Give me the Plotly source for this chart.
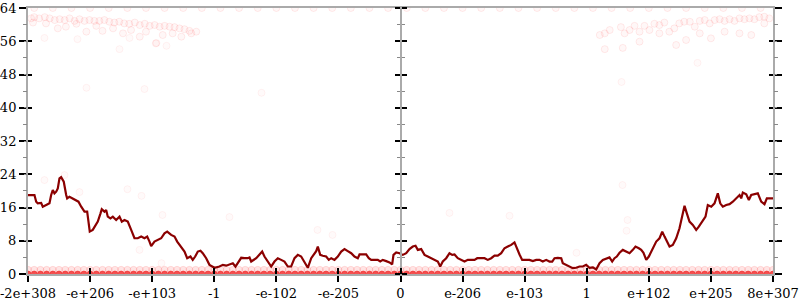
import plotly.graph_objects as go

# ---- axis ticks ----
x_tick_vals = [-6, -5, -4, -3, -2, -1, 0, 1, 2, 3, 4, 5, 6]
x_tick_text = ["-2e+308", "-e+206", "-e+103", "-1", "-e-102", "-e-205", "0",
               "e-206", "e-103", "1", "e+102", "e+205", "8e+307"]
y_tick_vals = [0, 8, 16, 24, 32, 40, 48, 56, 64]

# ---- main line (dark red) ----
line_x = [-6.0, -5.896, -5.868, -5.843, -5.788, -5.762, -5.707, -5.654, -5.627, -5.601,
          -5.574, -5.546, -5.520, -5.493, -5.466, -5.424, -5.385, -5.369, -5.332, -5.279,
          -5.224, -5.187, -5.143, -5.090, -5.047, -5.026, -5.005, -4.957, -4.929, -4.902,
          -4.876, -4.832, -4.812, -4.768, -4.741, -4.715, -4.672, -4.634, -4.580, -4.526,
          -4.489, -4.446, -4.393, -4.338, -4.285, -4.232, -4.177, -4.124, -4.080, -4.043,
          -4.016, -3.963, -3.910, -3.855, -3.802, -3.758, -3.694, -3.640, -3.597, -3.533,
          -3.479, -3.436, -3.383, -3.346, -3.307, -3.265, -3.222, -3.185, -3.130, -3.077,
          -3.024, -2.996, -2.916, -2.862, -2.808, -2.755, -2.701, -2.658, -2.621, -2.566,
          -2.513, -2.460, -2.432, -2.405, -2.324, -2.271, -2.228, -2.191, -2.138, -2.083,
          -2.030, -1.976, -1.922, -1.869, -1.815, -1.761, -1.707, -1.654, -1.600, -1.546,
          -1.493, -1.438, -1.385, -1.358, -1.332, -1.293, -1.252, -1.197, -1.155, -1.116,
          -1.063, -1.010, -0.955, -0.902, -0.849, -0.794, -0.741, -0.688, -0.660, -0.607,
          -0.553, -0.511, -0.472, -0.419, -0.366, -0.327, -0.285, -0.230, -0.177, -0.134,
          -0.113, -0.069, -0.016, 0.037, 0.092, 0.145, 0.198, 0.242, 0.279, 0.333,
          0.387, 0.440, 0.495, 0.548, 0.601, 0.640, 0.681, 0.736, 0.789, 0.833,
          0.870, 0.923, 0.978, 1.031, 1.084, 1.139, 1.192, 1.236, 1.300, 1.353,
          1.406, 1.461, 1.514, 1.567, 1.622, 1.675, 1.728, 1.783, 1.836, 1.873,
          1.917, 1.960, 1.997, 2.078, 2.131, 2.186, 2.239, 2.292, 2.347, 2.400,
          2.444, 2.481, 2.534, 2.589, 2.614, 2.669, 2.722, 2.775, 2.830, 2.883,
          2.937, 2.991, 3.044, 3.098, 3.152, 3.206, 3.259, 3.313, 3.366, 3.410,
          3.447, 3.484, 3.528, 3.581, 3.636, 3.689, 3.742, 3.785, 3.839, 3.877,
          3.914, 3.958, 4.000, 4.064, 4.119, 4.172, 4.216, 4.253, 4.290, 4.333,
          4.386, 4.441, 4.494, 4.538, 4.575, 4.612, 4.655, 4.708, 4.763, 4.805,
          4.860, 4.913, 4.950, 5.005, 5.058, 5.111, 5.150, 5.192, 5.246, 5.300,
          5.353, 5.408, 5.461, 5.488, 5.514, 5.569, 5.611, 5.649, 5.702, 5.755,
          5.810, 5.863, 5.901, 5.971, 6.0]
line_y = [19.0, 19.0, 17.4, 17.0, 17.1, 16.2, 16.6, 17.0, 19.0, 20.2,
          19.4, 19.8, 20.6, 23.0, 23.3, 22.2, 19.0, 18.2, 18.6, 18.2,
          17.8, 17.4, 16.2, 15.0, 15.0, 13.0, 10.2, 10.6, 11.4, 11.8,
          12.6, 14.6, 15.6, 15.0, 15.4, 13.8, 13.4, 13.8, 13.0, 13.8,
          12.6, 13.0, 12.6, 10.6, 8.6, 8.6, 9.0, 8.6, 9.0, 7.8,
          6.7, 7.8, 8.2, 8.6, 9.8, 10.2, 9.4, 9.0, 7.8, 6.6,
          5.4, 3.8, 4.2, 3.4, 4.2, 5.4, 5.6, 5.0, 3.8, 2.2,
          1.8, 1.5, 1.8, 2.2, 2.0, 2.3, 2.6, 1.8, 2.6, 3.9,
          3.8, 3.8, 4.0, 3.0, 3.8, 4.7, 5.4, 4.2, 3.0, 1.8,
          3.0, 3.8, 3.4, 3.0, 1.8, 1.8, 3.8, 4.6, 4.2, 3.0,
          1.5, 3.8, 5.0, 5.5, 6.6, 4.6, 4.4, 4.2, 3.4, 3.8,
          3.4, 4.2, 5.4, 6.0, 5.5, 5.0, 4.2, 3.8, 4.7, 4.7,
          4.7, 3.8, 3.4, 3.4, 3.4, 3.0, 3.4, 3.1, 2.8, 2.3,
          4.6, 5.2, 5.0, 4.6, 5.0, 6.0, 6.6, 6.8, 5.8, 6.0,
          4.6, 4.2, 3.8, 3.4, 3.0, 1.8, 3.0, 3.8, 5.0, 4.6,
          4.7, 3.8, 3.4, 3.0, 3.4, 3.4, 3.4, 3.8, 3.8, 3.8,
          3.4, 3.8, 4.4, 4.4, 5.0, 6.2, 6.6, 7.0, 7.6, 6.2,
          4.7, 3.4, 3.4, 3.4, 3.1, 3.4, 3.4, 3.0, 3.4, 3.0,
          3.0, 3.8, 3.9, 3.8, 2.6, 2.2, 1.8, 1.4, 1.5, 1.8,
          1.8, 2.2, 1.5, 1.6, 1.1, 2.6, 3.4, 3.8, 4.0, 3.0,
          3.8, 4.2, 5.1, 5.8, 5.4, 5.0, 5.8, 6.6, 6.2, 5.8,
          5.1, 3.4, 4.2, 6.2, 7.8, 8.6, 10.2, 9.0, 7.8, 6.6,
          7.0, 8.6, 11.0, 13.8, 16.4, 14.6, 12.6, 11.8, 10.6, 11.4,
          12.6, 13.8, 16.6, 16.2, 17.0, 19.4, 17.0, 16.2, 16.6, 16.8,
          17.4, 18.2, 19.0, 18.2, 19.6, 19.2, 17.8, 19.0, 19.2, 19.4,
          17.4, 16.8, 18.2, 18.2, 18.2]

# ---- faint points: bottom bands (values 0 and 1) ----
band_x = [-6.0, -5.9, -5.8, -5.7, -5.6, -5.5, -5.4, -5.3, -5.2, -5.1,
          -5.0, -4.9, -4.8, -4.7, -4.6, -4.5, -4.4, -4.3, -4.2, -4.1,
          -4.0, -3.9, -3.8, -3.7, -3.6, -3.5, -3.4, -3.3, -3.2, -3.1,
          -3.0, -2.9, -2.8, -2.7, -2.6, -2.5, -2.4, -2.3, -2.2, -2.1,
          -2.0, -1.9, -1.8, -1.7, -1.6, -1.5, -1.4, -1.3, -1.2, -1.1,
          -1.0, -0.9, -0.8, -0.7, -0.6, -0.5, -0.4, -0.3, -0.2, -0.1,
          0.0, 0.1, 0.2, 0.3, 0.4, 0.5, 0.6, 0.7, 0.8, 0.9,
          1.0, 1.1, 1.2, 1.3, 1.4, 1.5, 1.6, 1.7, 1.8, 1.9,
          2.0, 2.1, 2.2, 2.3, 2.4, 2.5, 2.6, 2.7, 2.8, 2.9,
          3.0, 3.1, 3.2, 3.3, 3.4, 3.5, 3.6, 3.7, 3.8, 3.9,
          4.0, 4.1, 4.2, 4.3, 4.4, 4.5, 4.6, 4.7, 4.8, 4.9,
          5.0, 5.1, 5.2, 5.3, 5.4, 5.5, 5.6, 5.7, 5.8, 5.9, 6.0]
band_zero_y = [0] * len(band_x)
band_one_y = [1] * len(band_x)

# ---- faint points at the top edge (value 64) ----
top_x = [-5.9, -5.6, -5.3, -5.0, -4.7, -4.4, -4.1, -3.8, -3.5, -3.2, -2.9, -2.6,
         -2.3, -2.0, -1.7, -1.4, -1.1, -0.8, -0.5, -0.2, 0.1, 0.4, 0.7, 1.0,
         1.3, 1.6, 1.9, 2.2, 2.5, 2.8, 3.1, 3.4, 3.7, 4.0, 4.3, 4.6, 4.9, 5.2,
         5.5, 5.8]
top_y = [64] * len(top_x)

# ---- faint points: upper clusters near 56..62 ----
high_left_x = [-5.95, -5.90, -5.82, -5.73, -5.65, -5.57, -5.49, -5.41, -5.33, -5.25,
               -5.17, -5.09, -5.01, -4.93, -4.85, -4.77, -4.69, -4.61, -4.53, -4.45,
               -4.37, -4.28, -4.20, -4.12, -4.04, -3.96, -3.88, -3.80, -3.72, -3.64,
               -3.56, -3.48, -3.40, -3.29, -5.92, -5.71, -5.52, -5.39, -5.22, -5.06,
               -4.90, -4.80, -4.63, -4.47, -4.34, -4.20, -4.10, -3.94, -3.83, -3.67,
               -3.53, -3.37]
high_left_y = [61.5, 61.8, 61.5, 61.8, 61.5, 61.1, 61.3, 61.1, 61.5, 60.9,
               61.3, 60.9, 61.1, 60.9, 60.9, 61.1, 60.7, 60.5, 60.7, 60.3,
               60.2, 60.5, 59.9, 60.2, 59.7, 59.9, 59.5, 59.7, 59.5, 59.4,
               59.1, 58.9, 58.5, 58.3, 60.5, 60.3, 59.1, 59.5, 60.2, 58.3,
               59.7, 58.5, 59.1, 57.9, 58.7, 57.1, 58.3, 55.5, 57.5, 57.9,
               57.1, 57.9]
high_right_x = [3.21, 3.29, 3.37, 3.55, 3.61, 3.69, 3.77, 3.85, 3.93, 4.01,
                4.09, 4.17, 4.25, 4.33, 4.41, 4.49, 4.57, 4.66, 4.74, 4.82,
                4.90, 4.98, 5.06, 5.14, 5.22, 5.30, 5.38, 5.46, 5.54, 5.62,
                5.70, 5.78, 5.86, 5.94, 3.85, 4.17, 4.44, 4.60, 4.82, 5.00,
                5.22, 5.46, 5.65, 5.86, 3.29, 3.58]
high_right_y = [57.5, 57.9, 58.7, 59.4, 57.9, 58.7, 59.7, 58.3, 59.7, 58.7,
                60.2, 59.9, 60.5, 58.3, 59.1, 60.3, 60.7, 60.7, 59.5, 60.9,
                61.1, 60.3, 61.1, 61.3, 60.9, 61.3, 60.9, 61.5, 61.3, 61.5,
                61.3, 61.8, 61.9, 61.5, 55.9, 57.9, 55.1, 56.3, 57.9, 56.7,
                58.3, 57.9, 57.5, 60.3, 54.1, 54.4]

# ---- scattered stray points ----
stray_x = [-5.058, -4.124, -5.735, -5.412, -5.171, -4.398, -4.172, -3.834, -4.204, -3.850,
           -1.337, -1.095, -2.755, 0.789, 1.756, 2.835, 3.657, 3.641, 3.576, 3.560,
           4.784, -5.735, -5.203, -4.526, -3.930, -3.769, -4.365, -2.239]
stray_y = [44.8, 44.5, 22.6, 23.8, 19.7, 20.4, 18.8, 14.2, 5.8, 2.6,
           10.6, 9.4, 13.7, 14.7, 14.0, 5.1, 13.0, 10.4, 21.4, 46.2,
           50.8, 56.8, 56.5, 54.1, 55.6, 54.9, 56.8, 43.6]

faint_marker = dict(symbol="circle", size=7, color="rgba(255,0,0,0.03)",
                    line=dict(color="rgba(255,0,0,0.08)", width=1))
stray_marker = dict(symbol="circle", size=7, color="rgba(255,0,0,0.02)",
                    line=dict(color="rgba(255,0,0,0.05)", width=1))
band_marker = dict(symbol="circle", size=7, color="rgba(255,0,0,0.1)",
                   line=dict(color="rgba(255,0,0,0.1)", width=1))
zero_marker = dict(symbol="circle", size=6, color="rgba(240,30,30,0.75)",
                   line=dict(color="rgba(240,30,30,0.5)", width=1))

fig = go.Figure()

def faint(xs, ys, marker):
    fig.add_trace(go.Scatter(x=xs, y=ys, mode="markers", marker=marker,
                             hoverinfo="skip", showlegend=False))

faint(band_x, band_one_y, band_marker)
faint(top_x, top_y, faint_marker)
faint(high_left_x, high_left_y, faint_marker)
faint(high_right_x, high_right_y, faint_marker)
faint(stray_x, stray_y, stray_marker)
faint(band_x, band_zero_y, zero_marker)

fig.add_trace(go.Scatter(x=line_x, y=line_y, mode="lines",
                         line=dict(color="#8b0000", width=2.2),
                         hoverinfo="skip", showlegend=False))

# helper (empty) traces so overlay axes are drawn
fig.add_trace(go.Scatter(x=[], y=[], xaxis="x2", yaxis="y2", showlegend=False))
fig.add_trace(go.Scatter(x=[], y=[], xaxis="x", yaxis="y3", showlegend=False))
fig.add_trace(go.Scatter(x=[], y=[], xaxis="x", yaxis="y4", showlegend=False))

font = dict(family="DejaVu Serif", size=13, color="black")
gray = "#aaaaaa"
xr = [-6, 6]
yr = [0, 64]

common_y = dict(range=yr, tickvals=y_tick_vals, showgrid=False, zeroline=False,
                tickcolor="black", tickwidth=1.5, automargin=False,
                minor=dict(dtick=4, tick0=0, ticklen=3, tickcolor="#888888", tickwidth=1))

fig.update_layout(
    width=800, height=300,
    margin=dict(l=28, r=27, t=8, b=26, pad=0),
    paper_bgcolor="white", plot_bgcolor="white",
    font=font,
    xaxis=dict(range=xr, tickvals=x_tick_vals, ticktext=x_tick_text, ticks="outside",
               ticklen=6, tickcolor="black", tickwidth=1.5, showgrid=False, zeroline=False,
               showline=True, linecolor=gray, linewidth=2, mirror=True, tickfont=font,
               automargin=False, ticklabeloverflow="allow", layer="below traces"),
    xaxis2=dict(range=xr, tickvals=x_tick_vals, ticks="inside", ticklen=6,
                tickcolor="black", tickwidth=1.5, showticklabels=False, showgrid=False,
                zeroline=False, overlaying="x", anchor="y", side="bottom", automargin=False),
    yaxis=dict(**common_y, ticks="outside", ticklen=7, showline=True, linecolor=gray,
               linewidth=2, mirror="ticks", tickfont=font, anchor="x",
               ticklabeloverflow="allow"),
    yaxis2=dict(**common_y, ticks="inside", ticklen=4, showticklabels=False,
                mirror="ticks", overlaying="y", anchor="x2"),
    yaxis3=dict(**common_y, ticks="outside", ticklen=5, showticklabels=False,
                showline=True, linecolor=gray, linewidth=2, overlaying="y",
                anchor="free", position=0.5, side="left"),
    yaxis4=dict(**common_y, ticks="outside", ticklen=5, showticklabels=False,
                overlaying="y", anchor="free", position=0.5, side="right"),
)

fig.write_html("out.html")
